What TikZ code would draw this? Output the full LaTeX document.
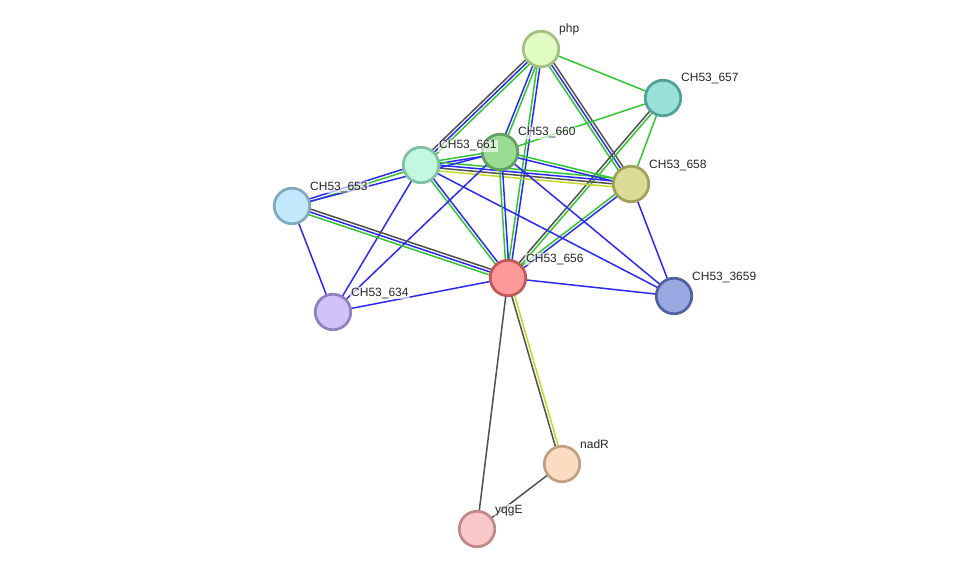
\documentclass[tikz,border=0pt]{standalone}
\usepackage{fontspec}
\setmainfont{Liberation Sans}
\usepackage{tikz}
\usetikzlibrary{calc,backgrounds}

\definecolor{sgreen}{HTML}{33C433}
\definecolor{sblue}{HTML}{2A2AF2}
\definecolor{sgray}{HTML}{505050}
\definecolor{syellow}{HTML}{C4D62A}

\tikzset{
prot/.style={circle, minimum size=35.5pt, inner sep=0pt, line width=2.7pt}, % protein bubbles
link/.style={line width=1.5pt}, % one evidence channel
lbl/.style={font=\fontsize{12}{14}\selectfont, text=black!85, fill=white, fill opacity=0.65, text opacity=1, inner sep=1pt}
}

% one line per evidence colour, side by side
\newcommand{\edge}[3]{%
  \foreach \ec [count=\en] in {#3} {\xdef\edgen{\en}}%
  \foreach \ec [count=\ei] in {#3} {%
    \pgfmathsetmacro{\eoff}{(\ei-(\edgen+1)/2)*2.9}%
    \draw[link, \ec] ($(#1.center)!\eoff pt!90:(#2.center)$) -- ($(#2.center)!\eoff pt!-90:(#1.center)$);
  }%
}

\begin{document}
\begin{tikzpicture}[x=1pt, y=-1pt]
    \useasboundingbox (0,0) rectangle (975,575);
    % proteins
    \node[prot, fill={rgb,255:red,224;green,252;blue,194}, draw={rgb,255:red,162;green,192;blue,131}] (php) at (541,49) {};
    \node[prot, fill={rgb,255:red,152;green,224;blue,216}, draw={rgb,255:red,80;green,160;blue,152}] (c657) at (663,98) {};
    \node[prot, fill={rgb,255:red,194;green,248;blue,224}, draw={rgb,255:red,128;green,192;blue,160}] (c661) at (421,165) {};
    \node[prot, fill={rgb,255:red,154;green,220;blue,146}, draw={rgb,255:red,96;green,160;blue,96}] (c660) at (500,152) {};
    \node[prot, fill={rgb,255:red,220;green,220;blue,152}, draw={rgb,255:red,160;green,160;blue,88}] (c658) at (631,184) {};
    \node[prot, fill={rgb,255:red,194;green,232;blue,252}, draw={rgb,255:red,128;green,168;blue,192}] (c653) at (292,206) {};
    \node[prot, fill={rgb,255:red,255;green,152;blue,152}, draw={rgb,255:red,192;green,88;blue,88}] (c656) at (508,278) {};
    \node[prot, fill={rgb,255:red,152;green,168;blue,224}, draw={rgb,255:red,80;green,96;blue,160}] (c3659) at (674,296) {};
    \node[prot, fill={rgb,255:red,210;green,194;blue,252}, draw={rgb,255:red,144;green,128;blue,192}] (c634) at (333,312) {};
    \node[prot, fill={rgb,255:red,252;green,220;blue,192}, draw={rgb,255:red,192;green,160;blue,128}] (nadR) at (562,464) {};
    \node[prot, fill={rgb,255:red,248;green,200;blue,200}, draw={rgb,255:red,192;green,136;blue,136}] (yqgE) at (477,529) {};

    % evidence lines
    \begin{scope}[on background layer]
    \edge{php}{c661}{sgray,sblue,sgreen}
    \edge{php}{c660}{sblue,sgreen}
    \edge{php}{c656}{sgreen,sblue}
    \edge{php}{c658}{sgreen,sblue,sgray}
    \edge{php}{c657}{sgreen}
    \edge{c657}{c660}{sgreen}
    \edge{c657}{c658}{sgreen}
    \edge{c657}{c656}{sgray,sgreen}
    \edge{c658}{c656}{sgreen,sblue}
    \edge{c658}{c3659}{sblue}
    \edge{c661}{c660}{sblue,sgreen}
    \edge{c661}{c658}{syellow,sgray,sblue,sgreen}
    \edge{c660}{c658}{sblue,sgreen}
    \edge{c661}{c656}{sgreen,sblue}
    \edge{c661}{c3659}{sblue}
    \edge{c661}{c634}{sblue}
    \edge{c660}{c634}{sblue}
    \edge{c660}{c656}{sgreen,sblue}
    \edge{c660}{c3659}{sblue}
    \edge{c653}{c661}{sgreen,sblue}
    \edge{c653}{c660}{sblue}
    \edge{c653}{c656}{sgreen,sblue,sgray}
    \edge{c653}{c634}{sblue}
    \edge{c634}{c656}{sblue}
    \edge{c656}{c3659}{sblue}
    \edge{c656}{nadR}{sgray,syellow}
    \edge{c656}{yqgE}{sgray}
    \edge{nadR}{yqgE}{sgray}
    \end{scope}

    % names
    \node[lbl, anchor=base west] (lphp) at ($(php)+(17,-16)$) {php};
    \node[lbl, anchor=base west] (l657) at ($(c657)+(17,-16)$) {CH53\_657};
    \node[lbl, anchor=base west] (l661) at ($(c661)+(17,-16)$) {CH53\_661};
    \node[lbl, anchor=base west] (l660) at ($(c660)+(17,-16)$) {CH53\_660};
    \node[lbl, anchor=base west] (l658) at ($(c658)+(17,-16)$) {CH53\_658};
    \node[lbl, anchor=base west] (l653) at ($(c653)+(17,-16)$) {CH53\_653};
    \node[lbl, anchor=base west] (l656) at ($(c656)+(17,-16)$) {CH53\_656};
    \node[lbl, anchor=base west] (l3659) at ($(c3659)+(17,-16)$) {CH53\_3659};
    \node[lbl, anchor=base west] (l634) at ($(c634)+(17,-16)$) {CH53\_634};
    \node[lbl, anchor=base west] (lnadR) at ($(nadR)+(17,-16)$) {nadR};
    \node[lbl, anchor=base west] (lyqgE) at ($(yqgE)+(17,-16)$) {yqgE};
\end{tikzpicture}
\end{document}
